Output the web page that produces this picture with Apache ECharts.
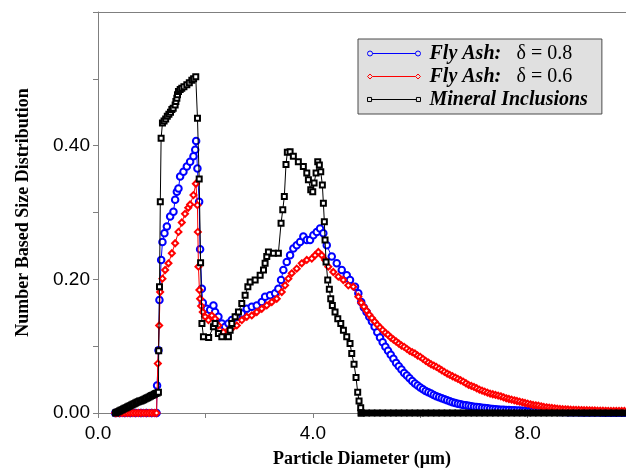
<!DOCTYPE html>
<html>
<head>
<meta charset="utf-8">
<script src="https://cdn.jsdelivr.net/npm/echarts@6/dist/echarts.min.js"></script>
<style>
html,body{margin:0;padding:0;background:#fff;}
#chart{width:626px;height:470px;}
</style>
</head>
<body>
<div id="chart"></div>
<script>
// ---- data ----
const blueX = [0.32,0.4,0.5,0.6,0.7,0.8,0.9,1.0,1.09,
  1.10,1.126,1.144,1.176,1.2,1.237,1.282,1.343,1.405,1.436,1.468,1.498,1.529,1.591,1.654,1.715,1.777,1.81,1.827,
  1.851,1.883,1.901,1.933,1.951,2.026,2.087,2.149,2.18,2.242,2.305,2.367,2.428,2.491,2.584,2.677,2.77,2.863,2.956,
  3.049,3.111,3.204,3.297,3.358,3.408,3.451,3.514,3.576,3.637,3.7,3.762,3.823,3.887,3.948,4.009,4.073,4.134,4.195,
  4.259,4.352,4.445,4.538,4.631,4.692,4.785,4.847,
  4.9,4.95,5.0,5.05,5.1,5.15,5.2,5.25,5.3,5.35,5.4,5.45,5.5,5.55,5.6,5.65,5.7,5.75,5.8,5.85,5.9,5.95,
  6.0,6.05,6.1,6.15,6.2,6.25,6.3,6.35,6.4,6.45,6.5,6.55,6.6,6.65,6.7,6.75,6.8,6.85,6.9,6.95,
  7.0,7.05,7.1,7.15,7.2,7.25,7.3,7.35,7.4,7.45,7.5,7.55,7.6,7.65,7.7,7.75,7.8,7.85,7.9,7.95,
  8.0,8.05,8.1,8.15,8.2,8.25,8.3,8.35,8.4,8.45,8.5,8.55,8.6,8.65,8.7,8.75,8.8,8.85,8.9,8.95,
  9.0,9.05,9.1,9.15,9.2,9.25,9.3,9.35,9.4,9.45,9.5,9.55,9.6,9.65,9.7,9.75,9.8,9.85];
const blueY = [0,0,0,0,0,0,0,0,0,
  0.041,0.094,0.169,0.229,0.256,0.269,0.279,0.294,0.301,0.319,0.331,0.336,0.354,0.361,0.369,0.376,0.384,0.394,0.407,
  0.366,0.316,0.245,0.186,0.165,0.156,0.154,0.161,0.151,0.144,0.134,0.129,0.134,0.139,0.144,0.149,0.156,0.159,0.161,
  0.166,0.174,0.176,0.179,0.186,0.199,0.214,0.226,0.236,0.246,0.251,0.256,0.264,0.259,0.259,0.266,0.271,0.276,0.269,
  0.251,0.234,0.224,0.214,0.206,0.199,0.189,0.179,
  0.166,0.158,0.151,0.144,0.137,0.129,0.121,0.113,0.106,0.099,0.093,0.087,0.081,0.075,0.070,0.065,0.060,0.056,0.052,0.048,0.044,0.041,
  0.038,0.0355,0.033,0.031,0.029,0.027,0.025,0.0235,0.022,0.0205,0.019,0.0175,0.016,0.015,0.014,0.013,0.012,0.0115,0.011,0.010,
  0.0095,0.009,0.0085,0.008,0.0075,0.007,0.0065,0.006,0.0057,0.0053,0.005,0.0048,0.0046,0.0044,0.0042,0.004,0.0038,0.0036,0.0034,0.0032,
  0.003,0.0029,0.0028,0.0026,0.0025,0.0024,0.0023,0.0021,0.002,0.0019,0.0018,0.0017,0.0016,0.0015,0.0014,0.0013,0.0012,0.0011,0.001,0.001,
  0.0009,0.0009,0.0008,0.0008,0.0007,0.0007,0.0006,0.0006,0.0005,0.0005,0.0005,0.0005,0.0004,0.0004,0.0004,0.0003,0.0003,0.0003];

const redX = [0.32,0.35,0.4,0.45,0.5,0.55,0.6,0.65,0.7,0.75,0.8,0.85,0.9,0.95,1.0,1.05,1.09,
  1.114,1.139,1.157,1.2,1.25,1.312,1.375,1.436,1.498,1.56,1.62,1.68,1.715,1.777,1.822,
  1.851,1.859,1.87,1.888,1.901,1.92,1.95,1.994,2.056,2.119,2.18,2.242,2.335,2.428,2.521,2.584,2.677,2.77,2.863,2.956,
  3.049,3.142,3.235,3.328,3.421,3.483,3.544,3.607,3.7,3.793,3.887,3.98,4.041,4.102,4.166,4.227,4.288,4.381,4.474,
  4.567,4.66,4.753,4.847,
  4.9,4.95,5.0,5.05,5.1,5.15,5.2,5.25,5.3,5.35,5.4,5.45,5.5,5.55,5.6,5.65,5.7,5.75,5.8,5.85,5.9,5.95,
  6.0,6.05,6.1,6.15,6.2,6.25,6.3,6.35,6.4,6.45,6.5,6.55,6.6,6.65,6.7,6.75,6.8,6.85,6.9,6.95,
  7.0,7.05,7.1,7.15,7.2,7.25,7.3,7.35,7.4,7.45,7.5,7.55,7.6,7.65,7.7,7.75,7.8,7.85,7.9,7.95,
  8.0,8.05,8.1,8.15,8.2,8.25,8.3,8.35,8.4,8.45,8.5,8.55,8.6,8.65,8.7,8.75,8.8,8.85,8.9,8.95,
  9.0,9.05,9.1,9.15,9.2,9.25,9.3,9.35,9.4,9.45,9.5,9.55,9.6,9.65,9.7,9.75,9.8,9.85];
const redY = [0,0,0,0,0,0,0,0,0,0,0,0,0,0,0,0,0,
  0.074,0.131,0.181,0.201,0.214,0.224,0.239,0.254,0.271,0.285,0.298,0.307,0.312,0.326,0.343,
  0.311,0.271,0.219,0.184,0.171,0.160,0.151,0.144,0.139,0.146,0.141,0.131,0.121,0.124,0.129,0.131,0.139,0.144,0.146,0.151,
  0.156,0.161,0.166,0.171,0.181,0.191,0.201,0.209,0.216,0.224,0.229,0.231,0.236,0.241,0.236,0.229,0.219,0.211,0.204,
  0.199,0.191,0.189,0.174,
  0.165,0.159,0.153,0.147,0.142,0.137,0.132,0.128,0.124,0.120,0.117,0.113,0.110,0.107,0.104,0.101,0.099,0.096,0.093,0.091,0.089,0.086,
  0.084,0.081,0.078,0.0755,0.073,0.071,0.069,0.0665,0.064,0.0615,0.059,0.057,0.055,0.053,0.051,0.049,0.047,0.0445,0.042,0.0405,
  0.039,0.037,0.035,0.0335,0.032,0.0305,0.029,0.028,0.027,0.026,0.025,0.0235,0.022,0.021,0.020,0.019,0.018,0.017,0.016,0.015,
  0.014,0.013,0.012,0.0115,0.011,0.010,0.009,0.0085,0.008,0.0075,0.007,0.0065,0.006,0.0057,0.0055,0.0052,0.005,0.0048,0.0047,0.0045,
  0.0044,0.0042,0.0041,0.004,0.0038,0.0037,0.0036,0.0035,0.0034,0.0033,0.0032,0.0031,0.0031,0.003,0.003,0.003,0.003,0.003];

const blackX = [0.325,0.35,0.375,0.4,0.425,0.45,0.475,0.5,0.525,0.55,0.575,0.6,0.625,0.65,0.675,0.7,0.725,0.75,
  0.775,0.8,0.825,0.85,0.875,0.9,0.925,0.95,0.975,1.0,1.025,1.05,1.075,1.1,1.125,
  1.13,1.145,1.16,1.175,1.2,1.23,1.26,1.29,1.32,1.35,1.375,1.4,1.436,1.45,1.468,1.48,1.498,1.53,1.56,1.6,1.654,1.7,
  1.747,1.78,1.82,1.852,1.884,1.91,1.935,1.963,
  2.06,2.149,2.18,2.242,2.305,2.428,2.46,2.491,2.553,2.615,2.677,2.739,2.79,2.833,2.926,3.019,3.081,3.111,3.142,
  3.173,3.266,3.358,3.408,3.44,3.469,3.5,3.525,3.576,3.637,3.73,3.823,3.887,3.917,3.961,3.998,4.023,4.06,4.091,
  4.121,4.147,4.177,4.196,4.214,4.227,4.246,4.277,4.307,4.333,4.363,4.413,4.464,4.52,4.569,4.631,4.692,4.724,
  4.767,4.804,4.835,4.86,4.891,4.9];
const blackY = [0,0.001,0.002,0.003,0.004,0.005,0.006,0.007,0.008,0.009,0.010,0.011,0.012,0.013,0.014,0.015,0.016,0.017,
  0.018,0.018,0.019,0.020,0.021,0.022,0.023,0.024,0.025,0.026,0.027,0.028,0.029,0.030,0.031,
  0.093,0.189,0.316,0.411,0.434,0.437,0.440,0.444,0.447,0.450,0.454,0.456,0.461,0.466,0.471,0.476,0.481,0.484,0.486,0.488,0.491,0.494,
  0.498,0.500,0.503,0.441,0.350,0.225,0.134,0.114,
  0.113,0.129,0.134,0.119,0.114,0.114,0.124,0.134,0.144,0.151,0.164,0.176,0.189,0.196,0.199,0.206,0.214,0.224,0.234,
  0.241,0.239,0.239,0.284,0.304,0.324,0.372,0.390,0.391,0.384,0.376,0.369,0.359,0.349,0.334,0.331,0.344,0.359,0.376,
  0.371,0.361,0.341,0.314,0.286,0.259,0.226,0.199,0.185,0.171,0.161,0.151,0.141,0.134,0.124,0.114,0.104,0.089,
  0.073,0.053,0.031,0.018,0.008,0];
const blackTailX = [4.9,5.0,5.1,5.2,5.3,5.4,5.5,5.6,5.7,5.8,5.9,6.0,6.1,6.2,6.3,6.4,6.5,6.6,6.7,6.8,6.9,7.0,
  7.1,7.2,7.3,7.4,7.5,7.6,7.7,7.8,7.9,8.0,8.1,8.2,8.3,8.4,8.5,8.6,8.7,8.8,8.9,9.0,9.1,9.2,9.3,9.4,9.5,9.6,9.7,9.8,9.9];
const blackTailY = [0,0,0,0,0,0,0,0,0,0,0,0,0,0,0,0,0,0,0,0,0,0,
  0,0,0,0,0,0,0,0,0,0,0,0,0,0,0,0,0,0,0,0,0,0,0,0,0,0,0,0,0];

const seriesNames = ['Fly Ash:  \u03b4 = 0.8', 'Fly Ash:  \u03b4 = 0.6', 'Mineral Inclusions'];
const seriesColors = ['#0000ff', '#ff0000', '#000000'];
const xTickLabels = ['0.0', '4.0', '8.0'];
const yTickLabels = ['0.00', '0.20', '0.40'];
const xTitle = 'Particle Diameter (\u03bcm)';
const yTitle = 'Number Based Size Distribution';

function pairs(xs, ys) { return xs.map((x, i) => [x, ys[i]]); }

const legendIcons = [
  'path://M0,2.5A2.5,2.5 0 1,0 5,2.5A2.5,2.5 0 1,0 0,2.5M5,2.5L48,2.5M48,2.5A2.5,2.5 0 1,0 53,2.5A2.5,2.5 0 1,0 48,2.5',
  'path://M0,2.5L2.5,0L5,2.5L2.5,5ZM5,2.5L48,2.5M48,2.5L50.5,0L53,2.5L50.5,5Z',
  'path://M0.5,0.5L4.5,0.5L4.5,4.5L0.5,4.5ZM4.5,2.5L48.5,2.5M48.5,0.5L52.5,0.5L52.5,4.5L48.5,4.5Z'
];

const chart = echarts.init(document.getElementById('chart'), null, {renderer: 'canvas'});
const axisGray = '#7f7f7f';
const option = {
  animation: false,
  backgroundColor: '#ffffff',
  grid: {left: 98, right: 0, top: 12, bottom: 57, containLabel: false, outerBoundsMode: 'none'},
  xAxis: [{
    type: 'value', min: 0, max: 9.83, interval: 2,
    name: xTitle, nameLocation: 'middle', nameGap: 37,
    nameTextStyle: {fontFamily: 'Liberation Serif', fontWeight: 'bold', fontSize: 18, color: '#000'},
    axisLine: {show: true, onZero: false, lineStyle: {color: axisGray, width: 1}},
    axisTick: {show: true, length: 5, lineStyle: {color: axisGray}},
    splitLine: {show: false},
    axisLabel: {
      fontFamily: 'Liberation Sans', fontSize: 19, color: '#000', margin: 11,
      formatter: function (v) {
        const s = v.toFixed(1);
        return xTickLabels.indexOf(s) >= 0 ? s : '';
      }
    }
  }, {
    type: 'value', position: 'top', min: 0, max: 9.83,
    axisLine: {show: true, onZero: false, lineStyle: {color: axisGray, width: 1}},
    axisTick: {show: false}, axisLabel: {show: false}, splitLine: {show: false}
  }],
  yAxis: {
    type: 'value', min: 0, max: 0.6, interval: 0.1,
    name: yTitle, nameLocation: 'middle', nameGap: 66,
    nameTextStyle: {fontFamily: 'Liberation Serif', fontWeight: 'bold', fontSize: 18, color: '#000'},
    axisLine: {show: true, lineStyle: {color: axisGray, width: 1}},
    axisTick: {show: true, length: 5, lineStyle: {color: axisGray}},
    splitLine: {show: false},
    axisLabel: {
      fontFamily: 'Liberation Sans', fontSize: 19, color: '#000', margin: 8,
      formatter: function (v) {
        const s = v.toFixed(2);
        return yTickLabels.indexOf(s) >= 0 ? s : '';
      }
    }
  },
  legend: {
    orient: 'vertical', left: 358, top: 39,
    data: seriesNames.map((n, i) => ({
      name: n, icon: legendIcons[i],
      itemStyle: {color: '#e0e0e0', borderColor: seriesColors[i], borderWidth: 1}
    })),
    backgroundColor: '#e0e0e0', borderColor: '#4a4a4a', borderWidth: 1,
    padding: [4, 14, 4, 9], itemGap: 2, itemWidth: 53, itemHeight: 5,
    textStyle: {
      fontFamily: 'Liberation Serif', fontSize: 20, color: '#000', lineHeight: 21, padding: [0, 0, 0, 4],
      rich: {
        a: {fontFamily: 'Liberation Serif', fontSize: 20, fontWeight: 'bold', fontStyle: 'italic', width: 87, lineHeight: 21},
        b: {fontFamily: 'Liberation Serif', fontSize: 20, lineHeight: 21}
      }
    },
    formatter: function (name) {
      const m = name.match(/^(Fly Ash:)\s+(.*)$/);
      if (m) return '{a|' + m[1] + '}{b|' + m[2] + '}';
      return '{a|' + name + '}';
    }
  },
  series: [{
    name: seriesNames[0], type: 'line', data: pairs(blueX, blueY),
    symbol: 'emptyCircle', symbolSize: 6.5, showSymbol: true,
    itemStyle: {color: seriesColors[0], borderWidth: 1},
    lineStyle: {color: seriesColors[0], width: 1}, z: 2
  }, {
    name: seriesNames[1], type: 'line', data: pairs(redX, redY),
    symbol: 'emptyDiamond', symbolSize: 6, showSymbol: true,
    itemStyle: {color: seriesColors[1], borderWidth: 1.1},
    lineStyle: {color: seriesColors[1], width: 1}, z: 3
  }, {
    name: seriesNames[2], type: 'line', data: pairs(blackX, blackY),
    symbol: 'emptyRect', symbolSize: 5, showSymbol: true,
    itemStyle: {color: seriesColors[2], borderWidth: 1},
    lineStyle: {color: seriesColors[2], width: 1}, z: 4
  }, {
    name: seriesNames[2], type: 'line', data: pairs(blackTailX, blackTailY),
    symbol: 'rect', symbolSize: 7, showSymbol: true,
    itemStyle: {color: seriesColors[2]},
    lineStyle: {color: seriesColors[2], width: 1}, z: 4
  }]
};
chart.setOption(option);
</script>
</body>
</html>
